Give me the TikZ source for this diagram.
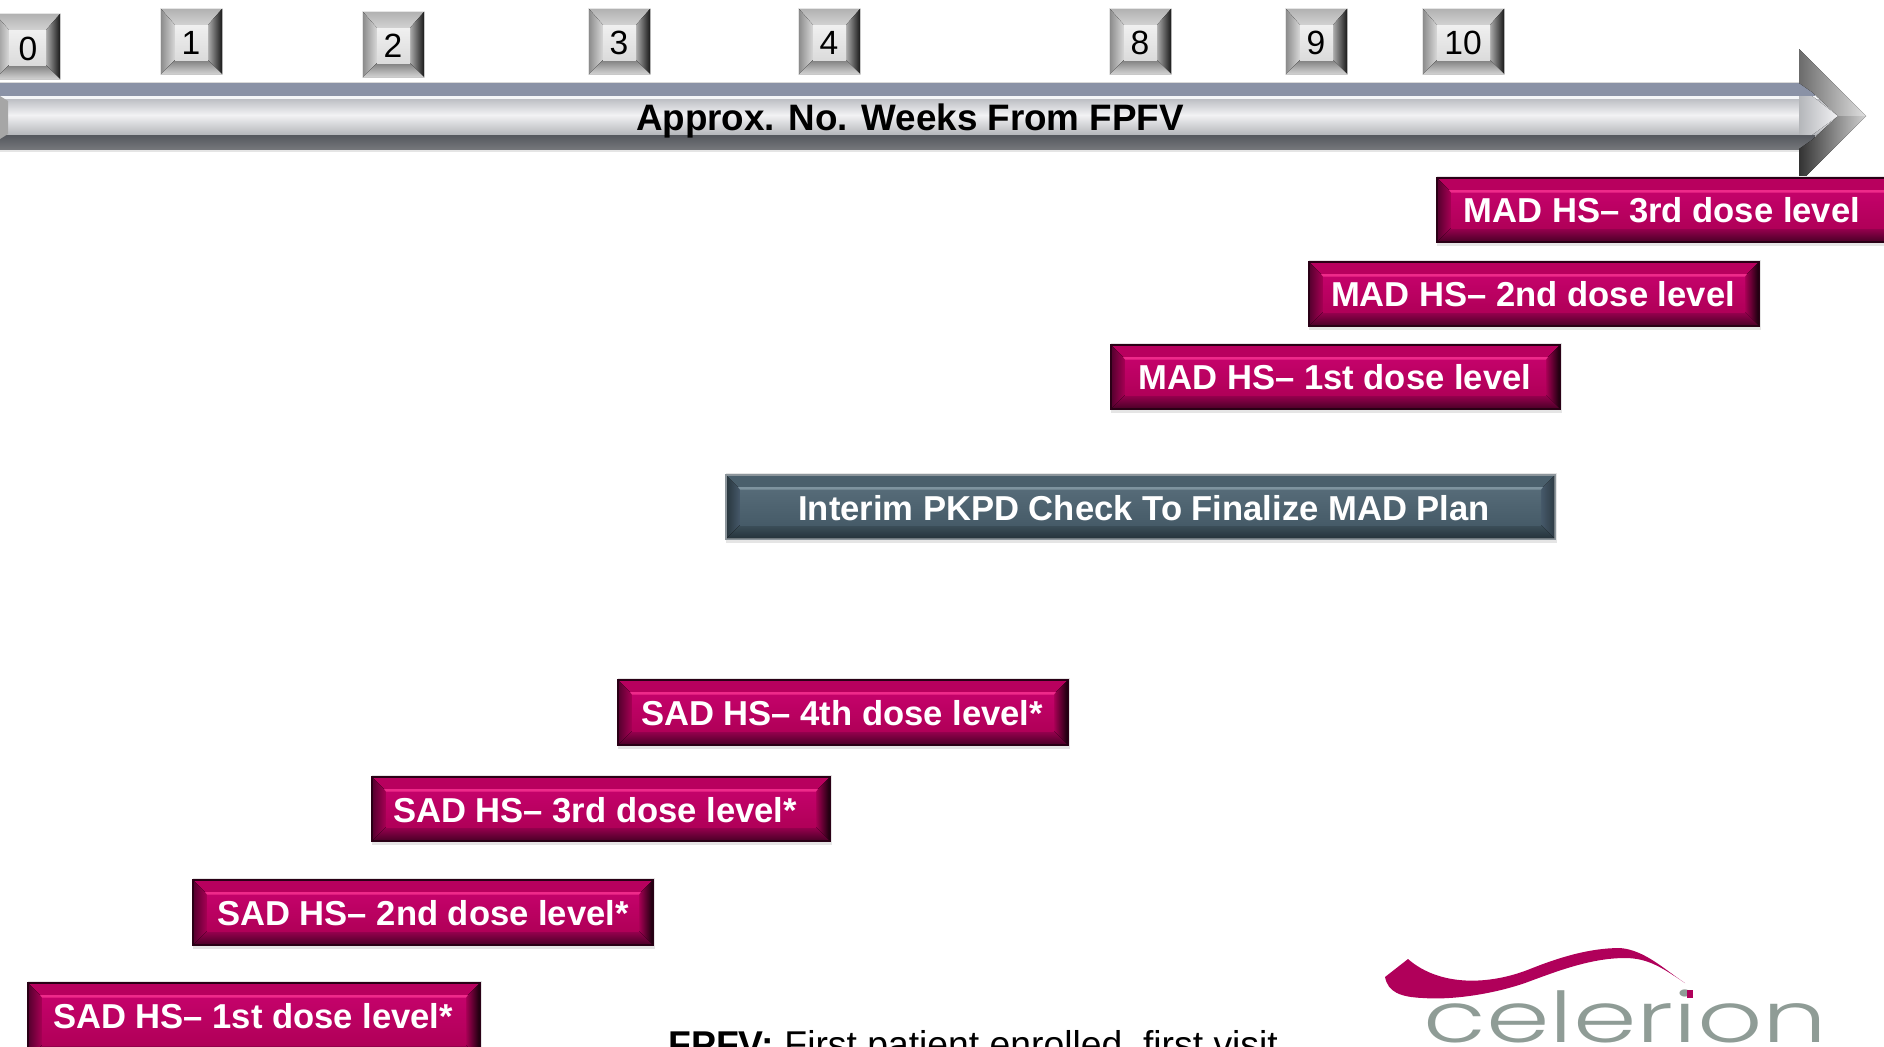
\documentclass[tikz,border=0pt]{standalone}
\usepackage{fontspec}
\setmainfont{Liberation Sans}
\newfontfamily\logofont{Poppins Light}
\usetikzlibrary{shadings}
\definecolor{pkOut}{HTML}{2A0016}
\definecolor{pkTop}{HTML}{B8005E}
\definecolor{pkHi}{HTML}{EE2A8A}
\definecolor{pkMidA}{HTML}{C4026A}
\definecolor{pkMidB}{HTML}{B00058}
\definecolor{pkBotA}{HTML}{9A0050}
\definecolor{pkBotB}{HTML}{4E0029}
\definecolor{pkSideA}{HTML}{5A0030}
\definecolor{pkSideB}{HTML}{A80055}
\definecolor{pkEdge}{HTML}{1E000F}
\definecolor{slOut}{HTML}{8C959B}
\definecolor{slTop}{HTML}{4A5F6C}
\definecolor{slHi}{HTML}{7E939F}
\definecolor{slMidA}{HTML}{566B78}
\definecolor{slMidB}{HTML}{465B68}
\definecolor{slBotA}{HTML}{3C4F5A}
\definecolor{slBotB}{HTML}{26343C}
\definecolor{slSideA}{HTML}{2A3840}
\definecolor{slSideB}{HTML}{46596A}
\definecolor{slEdge}{HTML}{2F3D46}
\definecolor{barTop}{HTML}{8A92A6}
\definecolor{barHi}{HTML}{F4F6F8}
\definecolor{barA}{HTML}{BDBFC4}
\definecolor{barB}{HTML}{F2F2F4}
\definecolor{barC}{HTML}{B4B6BA}
\definecolor{barD}{HTML}{55585E}
\definecolor{barE}{HTML}{74767A}
\definecolor{logoPink}{HTML}{B0005A}
\definecolor{logoGray}{HTML}{8F9C96}
\tikzset{
  x=0.5pt,y=-0.5pt,
  boxlabel/.style={anchor=base,inner sep=0pt,text=white,font=\fontsize{17.3}{20}\selectfont\bfseries},
  weeklabel/.style={anchor=base,inner sep=0pt,text=black,font=\fontsize{16.8}{19}\selectfont},
  titlelabel/.style={anchor=base,inner sep=0pt,text=black,font=\fontsize{18.4}{22}\selectfont\bfseries},
  notelabel/.style={anchor=base west,inner sep=0pt,text=black,font=\fontsize{18.65}{22}\selectfont},
  softshadow/.style={fill=black!10},
}
% name, x1, y1, x2, y2, text cx, text baseline, text, palette
\newcommand{\bevelbox}[9]{
  \fill[softshadow] (#2+1,#3-1) rectangle (#4+1,#5+3);
  \fill[#9Out] (#2,#3) rectangle (#4,#5);
  \fill[#9Top] (#2+2,#3+2) -- (#4-2,#3+2) -- (#4-15,#3+15) -- (#2+15,#3+15) -- cycle;
  \fill[left color=#9SideA,right color=#9SideB] (#2+2,#3+2) -- (#2+15,#3+15) -- (#2+15,#5-15) -- (#2+2,#5-2) -- cycle;
  \fill[right color=#9Edge,left color=#9SideB] (#4-2,#3+2) -- (#4-15,#3+15) -- (#4-15,#5-15) -- (#4-2,#5-2) -- cycle;
  \fill[top color=#9BotA,bottom color=#9BotB] (#2+2,#5-2) -- (#2+15,#5-15) -- (#4-15,#5-15) -- (#4-2,#5-2) -- cycle;
  \fill[top color=#9MidA,bottom color=#9MidB] (#2+15,#3+15) rectangle (#4-15,#5-15);
  \fill[#9Hi] (#2+13,#3+13) -- (#4-13,#3+13) -- (#4-15,#3+15.5) -- (#2+15,#3+15.5) -- cycle;
  \node[boxlabel] (#1) at (#6,#7) {#8};
}
% name, x1, y1, x2, y2, text cx, text baseline, text
\newcommand{\weekkey}[8]{
  \fill[black!10] (#2-1,#3-1) rectangle (#4+1,#5+1);
  \fill[top color=gray!60!white,bottom color=gray!35!white] (#2,#3) -- (#4,#3) -- (#4-14,#3+16) -- (#2+14,#3+16) -- cycle;
  \fill[left color=gray!90,right color=gray!30!white] (#2,#3) -- (#2+14,#3+16) -- (#2+14,#5-14) -- (#2,#5) -- cycle;
  \fill[right color=black!90,left color=gray!65!white] (#4,#3) -- (#4-14,#3+16) -- (#4-14,#5-14) -- (#4,#5) -- cycle;
  \fill[top color=gray!100,bottom color=gray!35!white] (#2,#5) -- (#2+14,#5-14) -- (#4-14,#5-14) -- (#4,#5) -- cycle;
  \fill[top color=black!6,bottom color=black!14] (#2+14,#3+16) rectangle (#4-14,#5-14);
  \node[weeklabel] (#1) at (#6,#7) {#8};
}
\begin{document}
\begin{tikzpicture}
\useasboundingbox (0,0) rectangle (1884,1046);
\clip (0,0) rectangle (1884,1046);
\fill[white] (0,0) rectangle (1884,1046);

% timeline arrow
\fill[black!10] (0,149) rectangle (1810,152);
\fill[black!15] (0,82) rectangle (1800,83.5);
\fill[barTop] (0,83) rectangle (1815,96);
\fill[barHi] (0,96) rectangle (1830,99);
\fill[top color=barA,bottom color=barB] (0,99) rectangle (1835,115);
\fill[top color=barB,bottom color=barC] (0,115) rectangle (1835,135);
\fill[top color=barD,bottom color=barE] (0,135) rectangle (1815,149);
\fill[gray!70] (0,96) -- (8,101) -- (8,134) -- (0,139) -- cycle;
\fill[left color=black!58,right color=black!12] (1799,49) -- (1866,116) -- (1838,116) -- (1812,92) -- (1799,83) -- cycle;
\fill[left color=black!80,right color=black!18] (1799,183) -- (1866,116) -- (1838,116) -- (1812,140) -- (1799,149) -- cycle;
\fill[left color=barC,right color=barB] (1799,96) -- (1812,96) -- (1838,116) -- (1812,135) -- (1799,135) -- cycle;
\node[titlelabel] (title) at (910,130) {Approx. No. Weeks From FPFV};

% week keys
\weekkey{w0}{-5}{14}{60}{79}{28}{60}{0}
\weekkey{w1}{161}{9}{222}{74}{191}{54}{1}
\weekkey{w2}{363}{12}{424}{77}{393}{57}{2}
\weekkey{w3}{589}{9}{650}{74}{619}{54}{3}
\weekkey{w4}{799}{9}{860}{74}{829}{54}{4}
\weekkey{w8}{1110}{9}{1171}{74}{1140}{54}{8}
\weekkey{w9}{1286}{9}{1347}{74}{1316}{54}{9}
\weekkey{w10}{1423}{9}{1504}{74}{1463}{54}{10}

% bars
\bevelbox{mad3}{1436}{177}{1900}{243}{1662}{222}{MAD HS– 3rd dose level}{pk}
\bevelbox{mad2}{1308}{261}{1760}{327}{1533}{306}{MAD HS– 2nd dose level}{pk}
\bevelbox{mad1}{1110}{344}{1561}{410}{1335}{389}{MAD HS– 1st dose level}{pk}
\bevelbox{interim}{725}{474}{1556}{540}{1144}{520}{Interim PKPD Check To Finalize MAD Plan}{sl}
\bevelbox{sad4}{617}{679}{1069}{746}{842}{725}{SAD HS– 4th dose level*}{pk}
\bevelbox{sad3}{371}{776}{831}{842}{595}{822}{SAD HS– 3rd dose level*}{pk}
\bevelbox{sad2}{192}{879}{654}{946}{423}{925}{SAD HS– 2nd dose level*}{pk}
\bevelbox{sad1}{27}{982}{481}{1060}{253}{1028}{SAD HS– 1st dose level*}{pk}

% footnote
\node[notelabel] (note) at (668,1057) {\textbf{FPFV:} First patient enrolled, first visit};

% logo
\node[anchor=base west,inner sep=0pt,text=logoGray,xscale=1.46,font=\fontsize{35}{38}\selectfont\logofont] (logo) at (1423,1042) {celerion};
\fill[logoPink] (1385,977) -- (1408,959)
  .. controls (1440,987) and (1490,985) .. (1530,969)
  .. controls (1560,957) and (1590,948) .. (1620,948)
  .. controls (1645,950) and (1665,970) .. (1685,983)
  .. controls (1665,970) and (1650,958) .. (1625,958)
  .. controls (1590,958) and (1555,972) .. (1525,983)
  .. controls (1490,995) and (1450,1000) .. (1423,998)
  .. controls (1400,997) and (1388,992) .. (1385,977) -- cycle;
\fill[logoPink] (1687,990) rectangle (1693,998);
\end{tikzpicture}
\end{document}
